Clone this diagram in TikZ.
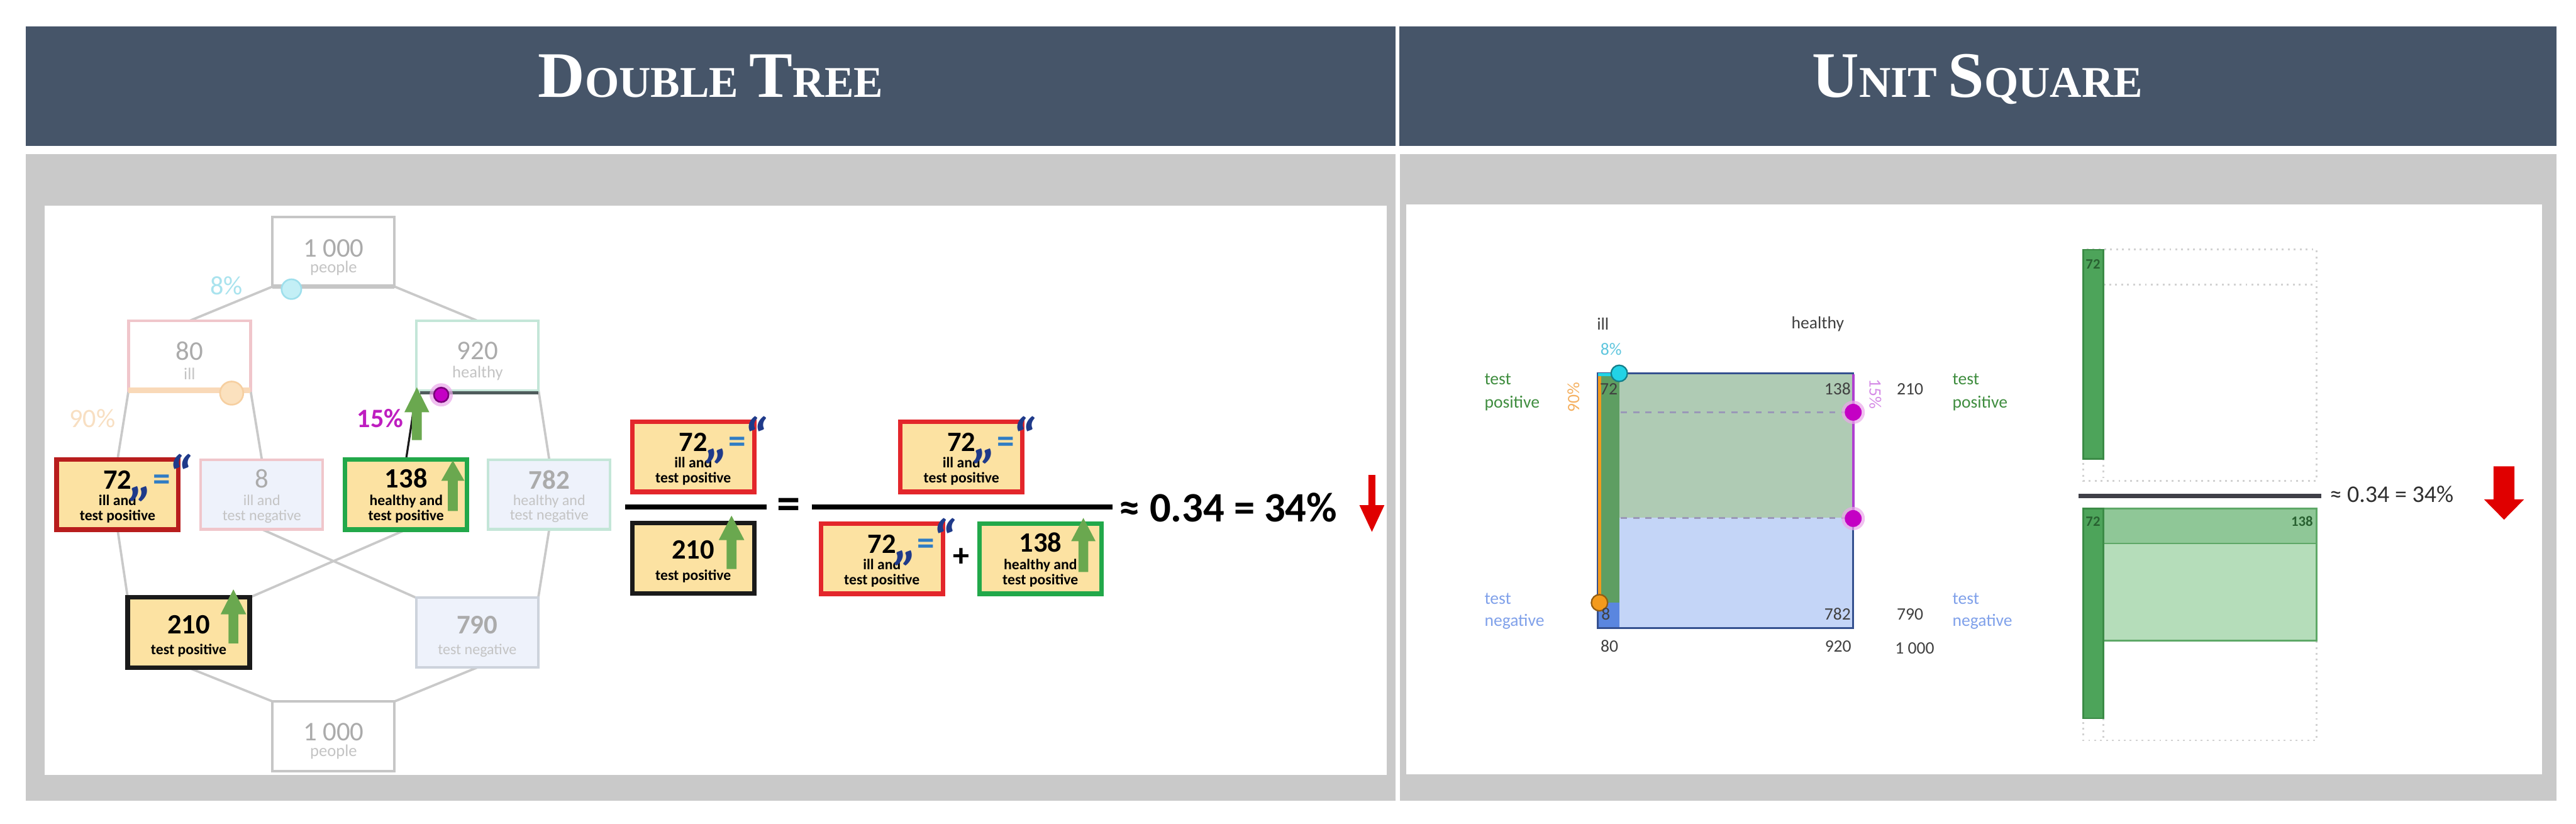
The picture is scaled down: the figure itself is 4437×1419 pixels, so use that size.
\documentclass[tikz,border=0pt]{standalone}
\usepackage{fontspec}
\setmainfont{Carlito}
\newfontfamily\hdfont{Liberation Serif}
\usetikzlibrary{calc}
\pgfdeclarelayer{bg}
\pgfdeclarelayer{lines}
\pgfsetlayers{bg,lines,main}
% colours
\definecolor{hdr}{HTML}{465569}
\definecolor{pgray}{HTML}{C9C9C9}
\definecolor{yel}{HTML}{FCE2A2}
\definecolor{redd}{HTML}{B81D1D}
\definecolor{rede}{HTML}{E3262B}
\definecolor{grnb}{HTML}{22A84A}
\definecolor{blk}{HTML}{1A1A1A}
\definecolor{garrow}{HTML}{6AA84F}
\definecolor{connc}{HTML}{C9C9C9}
\definecolor{fadetxt}{HTML}{ABABAB}
\definecolor{fadesub}{HTML}{C4C4C4}
\definecolor{topb}{HTML}{C6C6C6}
\definecolor{pinkb}{HTML}{F0C6CB}
\definecolor{mintb}{HTML}{C4E6D8}
\definecolor{blgrb}{HTML}{CDD3DC}
\definecolor{fadeblue}{HTML}{EEF2FB}
\definecolor{orbar}{HTML}{F9D9B8}
\definecolor{darkbar}{HTML}{4F5C5C}
\definecolor{cyanf}{HTML}{C3EFF6}
\definecolor{cyand}{HTML}{9EDFEC}
\definecolor{orf}{HTML}{FBE1BE}
\definecolor{ord}{HTML}{F6CFA0}
\definecolor{mag}{HTML}{C400C4}
\definecolor{magd}{HTML}{7A007A}
\definecolor{pcteight}{HTML}{A9E3EE}
\definecolor{pctninety}{HTML}{F8DFC2}
\definecolor{pctfifteen}{HTML}{BE1EC0}
\definecolor{qdark}{HTML}{1F3A8A}
\definecolor{qblue}{HTML}{2F7CC4}
\definecolor{usgreen}{HTML}{5E9E62}
\definecolor{usblue}{HTML}{5A86DF}
\definecolor{ussage}{HTML}{AFCBB4}
\definecolor{uslblue}{HTML}{C4D5F7}
\definecolor{usborder}{HTML}{34508F}
\definecolor{usorange}{HTML}{F39A1C}
\definecolor{uscyan}{HTML}{22D3E6}
\definecolor{usmag}{HTML}{B040D0}
\definecolor{usdash}{HTML}{9A98B8}
\definecolor{uspos}{HTML}{3F8D3F}
\definecolor{usneg}{HTML}{80A1EA}
\definecolor{usdark}{HTML}{404040}
\definecolor{useight}{HTML}{5FC6DE}
\definecolor{usninety}{HTML}{F5B162}
\definecolor{usfifteen}{HTML}{D58BE6}
\definecolor{rgreen}{HTML}{4DA45A}
\definecolor{rgreend}{HTML}{3B8B46}
\definecolor{rsageA}{HTML}{8FC797}
\definecolor{rsageB}{HTML}{B5DDBA}
\definecolor{rsaged}{HTML}{5EA867}
\definecolor{dotc}{HTML}{D2D2D2}
\definecolor{rbar}{HTML}{404048}
\definecolor{redarrow}{HTML}{E00000}
\definecolor{restxt}{HTML}{303030}

\newcommand\BigC[1]{{\fontsize{31.8pt}{32pt}\selectfont #1}}
\newcommand\SmC[1]{{\fontsize{21.5pt}{22pt}\selectfont #1}}

\tikzset{
  fbox/.style={draw=#1, line width=1.3pt, fill=white, minimum width=2.1cm, minimum height=1.2cm, inner sep=0pt, outer sep=0pt},
  fboxb/.style={fbox=#1, fill=fadeblue},
  hbox/.style={draw=#1, line width=2.2pt, fill=yel, minimum width=2.1cm, minimum height=1.21cm, inner sep=0pt, outer sep=0pt},
  txt/.style={inner sep=0pt, outer sep=0pt, anchor=base},
  bignum/.style={txt, font=\fontsize{13.7pt}{14pt}\selectfont\bfseries, text=black},
  lbl/.style={txt, font=\fontsize{7.3pt}{8pt}\selectfont\bfseries, text=black},
  fnum/.style={txt, font=\fontsize{13.2pt}{14pt}\selectfont, text=fadetxt},
  fnumb/.style={txt, font=\fontsize{13.2pt}{14pt}\selectfont\bfseries, text=fadetxt},
  fsub/.style={txt, font=\fontsize{8.2pt}{9pt}\selectfont, text=fadesub},
  flbl/.style={txt, font=\fontsize{7.4pt}{8pt}\selectfont, text=fadesub},
  conn/.style={draw=connc, line width=1.15pt},
  dquote/.style={inner sep=0pt, font=\fontsize{27pt}{28pt}\selectfont\bfseries\itshape, text=qdark},
  deqs/.style={inner sep=0pt, font=\fontsize{17pt}{18pt}\selectfont\bfseries, text=qblue},
  pct/.style={txt, font=\fontsize{13pt}{14pt}\selectfont},
  usl/.style={txt, font=\fontsize{8.5pt}{9pt}\selectfont, text=usdark},
  hdtext/.style={txt, text=white, font=\hdfont\bfseries},
  dotbox/.style={draw=dotc, line width=0.9pt, dotted},
}

% 72 ill-and-test-positive box
\newcommand\ilp[3]{%
  \node[hbox=#3] (#1) at (#2) {};
  \node[bignum] (#1-n) at ($(#1.center)+(0,-9.5)$) {72};
  \node[lbl] (#1-a) at ($(#1.center)+(0,19)$) {ill and};
  \node[lbl] (#1-b) at ($(#1.center)+(0,45)$) {test positive};
  \node[dquote] (#1-q1) at ($(#1.center)+(41,-1)$) {„};
  \node[deqs] (#1-q2) at ($(#1.center)+(76,-20)$) {=};
  \node[dquote] (#1-q3) at ($(#1.center)+(107,-35)$) {“};
}
% 138 healthy-and-test-positive box
\newcommand\hpbox[2]{%
  \node[hbox=grnb] (#1) at (#2) {};
  \node[bignum] (#1-n) at ($(#1.center)+(0,-11)$) {138};
  \node[lbl] (#1-a) at ($(#1.center)+(0,18.5)$) {healthy and};
  \node[lbl] (#1-b) at ($(#1.center)+(0,45)$) {test positive};
}
% 210 test-positive box
\newcommand\tpbox[3]{%
  \node[hbox=#3] (#1) at (#2) {};
  \node[bignum] (#1-n) at ($(#1.center)+(0,1.5)$) {210};
  \node[lbl] (#1-a) at ($(#1.center)+(0,38)$) {test positive};
}
% green up block arrow: x, tip, head base, bottom, head half width
\newcommand\gup[5]{%
  \fill[garrow] (#1,#2) -- ({#1+#5},#3) -- ({#1+8.5},#3) -- ({#1+8.5},#4) -- ({#1-8.5},#4) -- ({#1-8.5},#3) -- ({#1-#5},#3) -- cycle;}
% down block arrow: x, top, head base, tip, head half, shaft half, colour
\newcommand\rdown[7]{%
  \fill[#7] ({#1-#6},#2) -- ({#1+#6},#2) -- ({#1+#6},#3) -- ({#1+#5},#3) -- (#1,#4) -- ({#1-#5},#3) -- ({#1-#6},#3) -- cycle;}

\begin{document}
\begin{tikzpicture}[x=0.01cm,y=-0.01cm]
\useasboundingbox (0,0) rectangle (4437,1419);
\begin{pgfonlayer}{bg}
\fill[white] (0,0) rectangle (4437,1419);
\fill[hdr] (44,46) rectangle (2404,251);
\fill[hdr] (2410,46) rectangle (4403,251);
\fill[pgray] (44,265) rectangle (2404,1379);
\fill[pgray] (2411,265) rectangle (4403,1379);
\fill[white] (77,354) rectangle (2388,1335);
\fill[white] (2422,352) rectangle (4378,1333);
\end{pgfonlayer}

% headers
\node[hdtext] (hdL) at (1224,167) {\BigC{D}\SmC{OUBLE }\BigC{T}\SmC{REE}};
\node[hdtext] (hdR) at (3406,167) {\BigC{U}\SmC{NIT }\BigC{S}\SmC{QUARE}};

% ---------------- double tree ----------------
\node[fbox=topb] (top) at (574.5,433.5) {};
\node[fnum] (top-n) at ($(top.center)+(0,8.5)$) {1 000};
\node[fsub] (top-s) at ($(top.center)+(0,36.5)$) {people};

\node[fbox=pinkb] (n80) at (326.5,612.5) {};
\node[fnum] (n80-n) at ($(n80.center)+(0,7.5)$) {80};
\node[fsub] (n80-s) at ($(n80.center)+(0,41)$) {ill};

\node[fbox=mintb] (n920) at (822.5,612.5) {};
\node[fnum] (n920-n) at ($(n920.center)+(0,6.5)$) {920};
\node[fsub] (n920-s) at ($(n920.center)+(0,38)$) {healthy};

\ilp{n72}{202.5,851.5}{redd}

\node[fboxb=pinkb] (n8) at (451,851.5) {};
\node[fnum] (n8-n) at ($(n8.center)+(0,-11.5)$) {8};
\node[flbl] (n8-a) at ($(n8.center)+(0,19)$) {ill and};
\node[flbl] (n8-b) at ($(n8.center)+(0,45)$) {test negative};

\hpbox{n138}{699.5,851.5}

\node[fboxb=mintb] (n782) at (946,851.5) {};
\node[fnumb] (n782-n) at ($(n782.center)+(0,-9.5)$) {782};
\node[flbl] (n782-a) at ($(n782.center)+(0,18.5)$) {healthy and};
\node[flbl] (n782-b) at ($(n782.center)+(0,44)$) {test negative};

\tpbox{n210}{325,1089.5}{blk}

\node[fboxb=blgrb] (n790) at (822,1089.5) {};
\node[fnumb] (n790-n) at ($(n790.center)+(0,1.5)$) {790};
\node[flbl] (n790-a) at ($(n790.center)+(0,37.5)$) {test negative};

\node[fbox=topb] (bot) at (574.5,1268) {};
\node[fnum] (bot-n) at ($(bot.center)+(0,7)$) {1 000};
\node[fsub] (bot-s) at ($(bot.center)+(0,35)$) {people};

\begin{pgfonlayer}{lines}
\draw[conn] (top.south west) -- (n80.north);
\draw[conn] (top.south east) -- (n920.north);
\draw[conn] (n80.south west) -- (n72.north);
\draw[conn] (n80.south east) -- (n8.north);
\draw[line width=1pt, blk] (n920.south west) -- (n138.north);
\draw[conn] (n920.south east) -- (n782.north);
\draw[conn] (n72.south) -- (n210.north west);
\draw[conn] (n8.south) -- (n790.north west);
\draw[conn] (n138.south) -- (n210.north east);
\draw[conn] (n782.south) -- (n790.north east);
\draw[conn] (n210.south) -- (bot.north west);
\draw[conn] (n790.south) -- (bot.north east);
\end{pgfonlayer}

% split bars
\draw[line width=2.2pt, topb] (top.south west) -- (top.south east);
\draw[line width=2.8pt, orbar] (n80.south west) -- (n80.south east);
\draw[line width=1.6pt, darkbar] ($(n920.south west)+(6,4)$) -- ($(n920.south east)+(0,4)$);

% percentages
\node[pct, text=pcteight] (p8) at (390,507) {8\%};
\node[pct, text=pctninety] (p90) at (159,736) {90\%};
\node[pct, text=pctfifteen, font=\fontsize{13pt}{14pt}\selectfont\bfseries] (p15) at (655,736) {15\%};

% green arrows in tree
\gup{718}{667}{710}{758}{21.5}
\gup{780}{793}{828}{880}{20}
\gup{402}{1015}{1058}{1108}{22}

% circles
\filldraw[fill=cyanf, draw=cyand, line width=0.8pt] (502,498) circle[radius=0.17cm];
\filldraw[fill=orf, draw=ord, line width=0.8pt] (399,677) circle[radius=0.2cm];
\fill[mag!35, opacity=0.7] (760,680) circle[radius=0.2cm];
\filldraw[fill=mag, draw=magd, line width=0.8pt] (760,680) circle[radius=0.125cm];

% ---------------- equation ----------------
\ilp{e1}{1194,786.5}{rede}
\ilp{e2}{1656,786.5}{rede}
\tpbox{e3}{1194,961.5}{blk}
\ilp{e4}{1519,962}{rede}
\hpbox{e5}{1792,962}
\gup{1260}{888}{930}{980}{22}
\gup{1866}{892}{932}{985}{21}
\draw[line width=2.6pt, black] (1077,873) -- (1321,873);
\draw[line width=2.6pt, black] (1398,873) -- (1916,873);
\node[inner sep=0pt, font=\fontsize{23pt}{24pt}\selectfont\bfseries] (eqs) at (1358,876) {=};
\node[inner sep=0pt, font=\fontsize{16pt}{17pt}\selectfont\bfseries] (plus) at (1656,960) {+};
\node[txt, anchor=base west, font=\fontsize{20.5pt}{21pt}\selectfont\bfseries] (res) at (1928,899) {≈ 0.34 = 34\%};
\rdown{2363}{818}{870}{916}{21.5}{6}{redarrow}

% ---------------- unit square ----------------
\fill[usgreen] (2752,643) rectangle (2789,1038);
\fill[usblue] (2752,1038) rectangle (2789,1082);
\fill[ussage] (2789,643) rectangle (3192,892);
\fill[uslblue] (2789,892) rectangle (3192,1082);
\draw[usdash, line width=1pt, dash pattern=on 3pt off 3pt] (2792,710) -- (3188,710);
\draw[usdash, line width=1pt, dash pattern=on 3pt off 3pt] (2792,892) -- (3188,892);
\draw[usborder, line width=1pt] (2752,643) rectangle (3192,1082);
\draw[usorange, line width=1.5pt] (2755,646) -- (2755,1038);
\draw[uscyan, line width=1.5pt] (2752,645) -- (2789,645);
\draw[usmag, line width=1.3pt] (3192,645) -- (3192,892);
\filldraw[fill=uscyan, draw=uscyan!60!black, line width=0.7pt] (2789,643) circle[radius=0.14cm];
\filldraw[fill=usorange, draw=usorange!60!black, line width=0.7pt] (2755,1038) circle[radius=0.14cm];
\fill[mag!35, opacity=0.7] (3192,710) circle[radius=0.2cm];
\fill[mag!35, opacity=0.7] (3192,893) circle[radius=0.2cm];
\fill[mag] (3192,710) circle[radius=0.145cm];
\fill[mag] (3192,893) circle[radius=0.145cm];

\node[usl] (u-ill) at (2761,568) {ill};
\node[usl] (u-hea) at (3131,566) {healthy};
\node[usl, text=useight] (u-p8) at (2775,612) {8\%};
\node[inner sep=0pt, rotate=90, font=\fontsize{8.5pt}{9pt}\selectfont, text=usninety] (u-p90) at (2710,684) {90\%};
\node[inner sep=0pt, rotate=-90, font=\fontsize{8.5pt}{9pt}\selectfont, text=usfifteen] (u-p15) at (3230,679) {15\%};
\node[usl] (u-72) at (2771,680) {72};
\node[usl] (u-138) at (3165,680) {138};
\node[usl] (u-8) at (2766,1068) {8};
\node[usl] (u-782) at (3165,1068) {782};
\node[usl] (u-210) at (3290,680) {210};
\node[usl] (u-790) at (3290,1068) {790};
\node[usl] (u-80) at (2772,1123) {80};
\node[usl] (u-920) at (3166,1123) {920};
\node[usl] (u-1000) at (3298,1126) {1 000};
\node[usl, anchor=base west, text=uspos] (u-tp1) at (2557,662) {test};
\node[usl, anchor=base west, text=uspos] (u-tp2) at (2557,702) {positive};
\node[usl, anchor=base west, text=usneg] (u-tn1) at (2557,1040) {test};
\node[usl, anchor=base west, text=usneg] (u-tn2) at (2557,1078) {negative};
\node[usl, anchor=base west, text=uspos] (u-tp3) at (3363,662) {test};
\node[usl, anchor=base west, text=uspos] (u-tp4) at (3363,702) {positive};
\node[usl, anchor=base west, text=usneg] (u-tn3) at (3363,1040) {test};
\node[usl, anchor=base west, text=usneg] (u-tn4) at (3363,1078) {negative};

% right-hand fraction
\draw[dotbox] (3588,430) rectangle (3990,828);
\draw[dotbox] (3623,490) -- (3990,490);
\draw[dotbox] (3623,790) -- (3623,828);
\filldraw[fill=rgreen, draw=rgreend, line width=0.8pt] (3588,430) rectangle (3623,790);
\node[txt, font=\fontsize{7pt}{8pt}\selectfont\bfseries, text=rgreend!70!black] (r-72a) at (3605,463) {72};

\draw[rbar, line width=2.2pt] (3580,854) -- (3998,854);
\node[txt, anchor=base west, font=\fontsize{11.7pt}{12pt}\selectfont, text=restxt] (rres) at (4013,865) {≈ 0.34 = 34\%};
\rdown{4313}{803}{860}{895}{34.5}{18}{redarrow}

\draw[dotbox] (3588,876) rectangle (3990,1275);
\draw[dotbox] (3623,1237) -- (3623,1275);
\filldraw[fill=rsageB, draw=rsaged, line width=0.8pt] (3623,936) rectangle (3990,1103);
\filldraw[fill=rsageA, draw=rsaged, line width=0.8pt] (3623,876) rectangle (3990,936);
\filldraw[fill=rgreen, draw=rgreend, line width=0.8pt] (3588,876) rectangle (3623,1237);
\node[txt, font=\fontsize{7pt}{8pt}\selectfont\bfseries, text=rgreend!70!black] (r-72b) at (3605,906) {72};
\node[txt, font=\fontsize{7pt}{8pt}\selectfont\bfseries, text=rgreend!70!black] (r-138) at (3965,906) {138};
\end{tikzpicture}
\end{document}
